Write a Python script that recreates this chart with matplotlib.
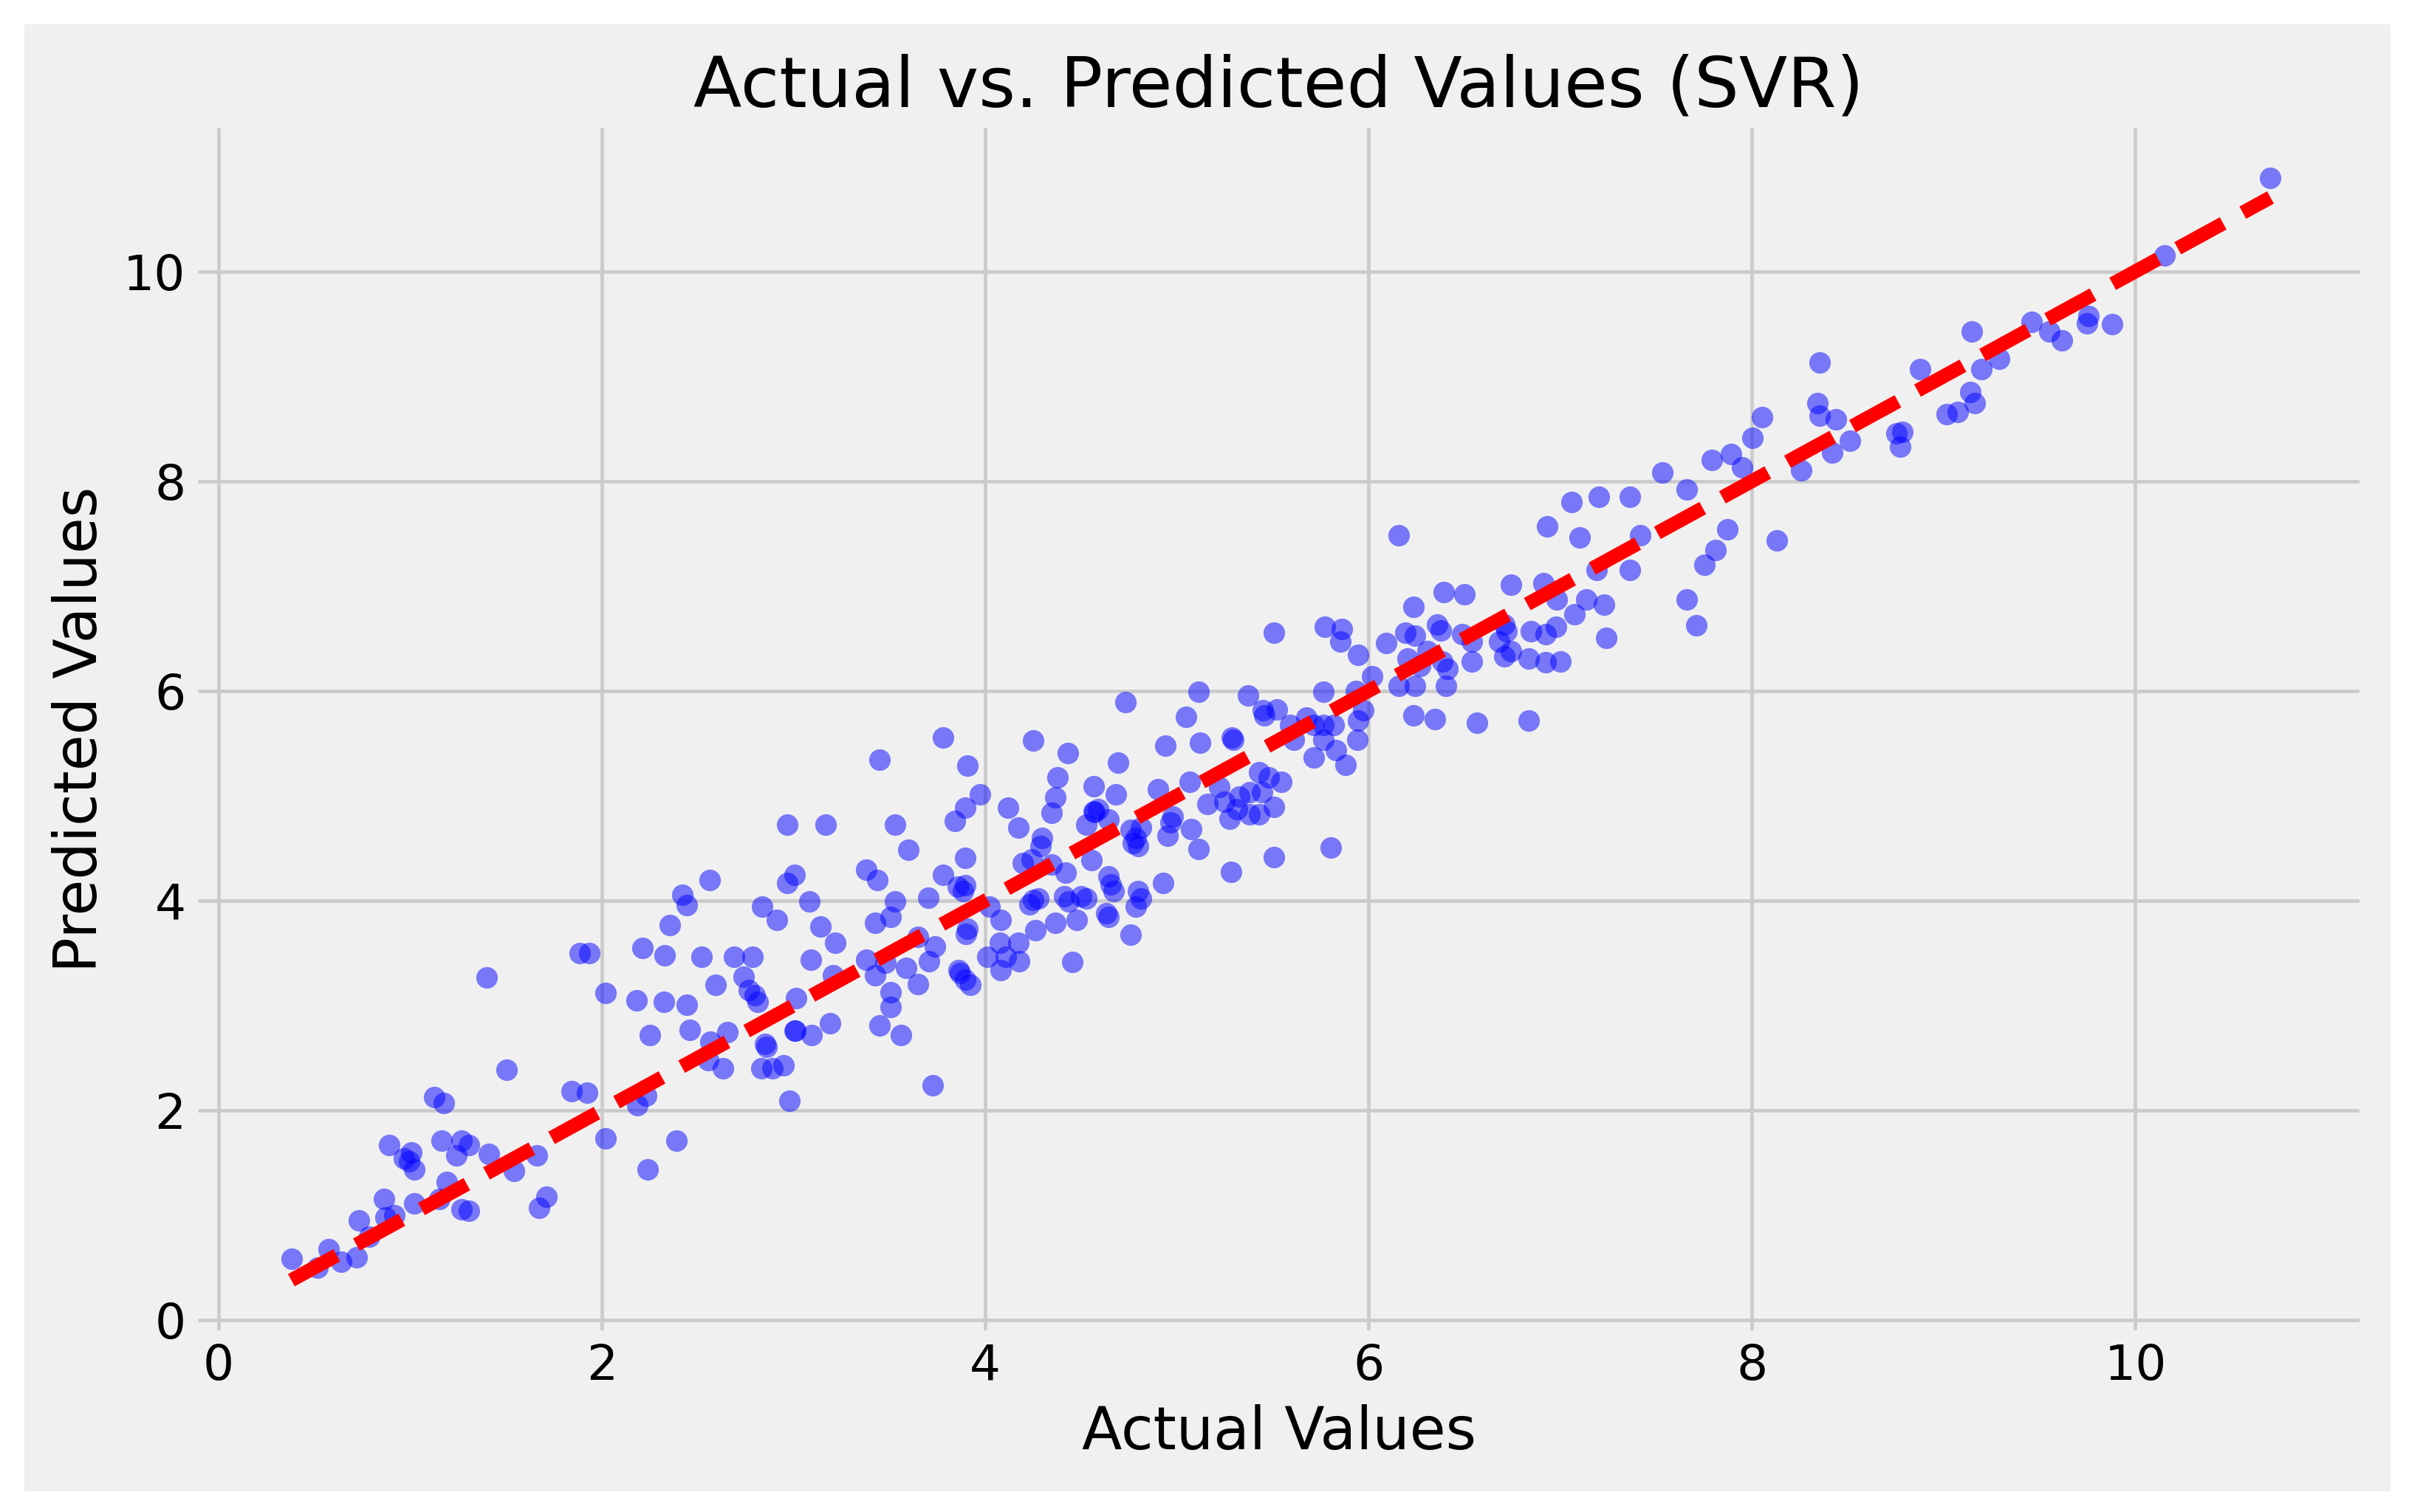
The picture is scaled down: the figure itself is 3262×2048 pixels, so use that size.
import matplotlib
matplotlib.use("Agg")
import matplotlib.pyplot as plt
from matplotlib.patches import Rectangle

plt.style.use("fivethirtyeight")
plt.rcParams['font.family'] = ['DejaVu Sans']

actual_values = [
    0.379, 0.516, 0.575, 0.640, 0.719, 0.732, 0.784, 0.862, 0.869, 0.915, 0.889, 0.967, 1.006, 0.993, 1.019,
    1.019, 1.124, 1.176, 1.163, 1.189, 1.15, 1.268, 1.307, 1.268, 1.241, 1.307, 1.411, 1.398, 1.542, 1.503,
    1.66, 1.673, 1.712, 1.843, 1.921, 1.882, 1.934, 2.019, 2.019,
    2.966, 2.56, 2.418, 2.443, 2.353, 2.211, 2.327, 2.521, 2.688, 2.785, 2.837, 2.914, 2.966, 3.005, 2.18,
    2.321, 2.444, 2.593, 2.74, 2.766, 2.798, 2.811, 2.25, 2.456, 2.565, 2.656, 2.553, 2.63, 2.85, 2.86,
    2.83, 2.888, 2.947, 3.005, 3.01, 2.979, 2.231, 2.185, 2.39, 2.237,
    3.778, 3.449, 3.907, 3.971, 3.894, 3.842, 3.166, 3.527, 3.6, 3.894, 3.378, 3.436, 3.778, 3.856, 3.882,
    3.894, 3.082, 3.701, 3.527, 3.507, 3.423, 3.139, 3.217, 3.907, 3.9, 3.647, 3.738, 3.706, 3.585, 3.647,
    3.378, 3.478, 3.423, 3.089, 3.204, 3.862, 3.868, 3.92, 3.894, 3.011, 3.507, 3.507, 3.449, 3.559, 3.191,
    3.094, 3.727,
    4.732, 4.249, 4.43, 4.693, 4.939, 4.378, 4.565, 4.68, 4.365, 4.346, 4.12, 4.172, 4.9, 4.565, 4.57,
    4.59, 4.526, 4.642, 4.294, 4.288, 4.758, 4.81, 4.784, 4.797, 4.771, 4.965, 4.952, 4.977, 4.197, 4.243,
    4.346, 4.417, 4.552, 4.642, 4.655, 4.668, 4.926, 4.797, 4.81, 4.784, 4.249, 4.23, 4.275, 4.41, 4.436,
    4.5, 4.526, 4.629, 4.642, 4.023, 4.081, 4.262, 4.365, 4.475, 4.758, 4.075, 4.172, 4.01, 4.107, 4.178,
    4.081, 4.455,
    5.506, 5.771, 5.861, 5.854, 5.945, 5.113, 5.371, 5.765, 5.048, 5.448, 5.455, 5.519, 5.59, 5.674, 5.713,
    5.765, 5.816, 5.932, 5.971, 5.945, 5.939, 5.119, 5.287, 5.293, 5.61, 5.765, 5.829, 5.713, 5.88, 5.068,
    5.222, 5.429, 5.48, 5.545, 5.158, 5.248, 5.326, 5.377, 5.442, 5.506, 5.274, 5.377, 5.429, 5.313, 5.074,
    5.113, 5.281, 5.506, 5.803,
    6.157, 6.931, 6.235, 6.39, 6.5, 6.744, 6.912, 6.983, 6.093, 6.19, 6.242, 6.358, 6.377, 6.487, 6.538,
    6.706, 6.719, 6.68, 6.706, 6.744, 6.848, 6.925, 6.977, 6.835, 6.925, 7.0, 6.203, 6.267, 6.306, 6.384,
    6.409, 6.538, 6.016, 6.157, 6.242, 6.403, 6.235, 6.345, 6.564, 6.835,
    8.053, 8.002, 7.789, 7.892, 7.95, 7.531, 7.66, 7.06, 7.202, 7.363, 7.099, 7.415, 7.873, 8.13, 7.808,
    7.75, 7.189, 7.363, 7.137, 7.227, 7.073, 7.66, 7.711, 7.241,
    10.705, 10.151, 9.757, 9.748, 9.879, 9.458, 9.551, 9.617, 9.148, 9.289, 9.195, 9.139, 9.162, 9.017, 9.074,
    8.876, 8.351, 8.342, 8.351, 8.436, 8.51, 8.417, 8.258, 8.754, 8.783, 8.773,
]

predicted_values = [
    0.586, 0.498, 0.674, 0.556, 0.600, 0.952, 0.791, 1.157, 0.981, 0.996, 1.67, 1.538, 1.60, 1.51, 1.435,
    1.113, 2.123, 2.07, 1.713, 1.318, 1.157, 1.054, 1.04, 1.713, 1.567, 1.67, 1.581, 3.265, 1.42, 2.387,
    1.567, 1.069, 1.172, 2.182, 2.167, 3.499, 3.499, 3.119, 1.728,
    4.722, 4.193, 4.054, 3.953, 3.764, 3.55, 3.475, 3.462, 3.462, 3.462, 3.94, 3.815, 4.168, 4.243, 3.046,
    3.033, 3.008, 3.197, 3.273, 3.147, 3.096, 3.033, 2.718, 2.769, 2.656, 2.744, 2.479, 2.403, 2.631, 2.605,
    2.403, 2.403, 2.428, 2.756, 2.76, 2.088, 2.139, 2.05, 1.71, 1.432,
    5.554, 5.34, 5.289, 5.012, 4.886, 4.76, 4.722, 4.722, 4.483, 4.407, 4.294, 4.193, 4.243, 4.13, 4.092,
    4.143, 3.99, 4.028, 3.99, 3.84, 3.789, 3.752, 3.6, 3.73, 3.68, 3.655, 3.56, 3.42, 3.355, 3.2,
    3.437, 3.41, 3.286, 3.437, 3.286, 3.336, 3.31, 3.197, 3.248, 3.072, 3.122, 2.984, 2.807, 2.719, 2.832,
    2.719, 2.24,
    5.894, 5.529, 5.403, 5.315, 5.479, 5.176, 5.088, 5.012, 4.987, 4.836, 4.886, 4.697, 5.062, 4.85, 4.84,
    4.873, 4.722, 4.772, 4.596, 4.52, 4.672, 4.697, 4.596, 4.52, 4.545, 4.747, 4.621, 4.798, 4.357, 4.395,
    4.344, 4.268, 4.382, 4.231, 4.155, 4.092, 4.168, 4.092, 4.016, 3.94, 4.004, 3.966, 4.016, 4.042, 3.991,
    4.042, 4.016, 3.878, 3.84, 3.94, 3.815, 3.714, 3.789, 3.815, 3.676, 3.6, 3.6, 3.462, 3.462, 3.424,
    3.336, 3.412,
    6.554, 6.612, 6.588, 6.47, 6.341, 5.989, 5.954, 5.989, 5.754, 5.813, 5.766, 5.825, 5.672, 5.742, 5.672,
    5.672, 5.672, 6.0, 5.813, 5.719, 5.531, 5.507, 5.554, 5.531, 5.531, 5.531, 5.437, 5.366, 5.295, 5.129,
    5.082, 5.223, 5.176, 5.129, 4.919, 4.942, 4.989, 5.035, 5.035, 4.895, 4.777, 4.824, 4.824, 4.871, 4.683,
    4.494, 4.271, 4.413, 4.508,
    7.483, 7.565, 6.801, 6.94, 6.917, 7.011, 7.023, 6.87, 6.459, 6.553, 6.529, 6.635, 6.576, 6.541, 6.47,
    6.635, 6.565, 6.47, 6.329, 6.376, 6.565, 6.541, 6.612, 6.306, 6.271, 6.282, 6.306, 6.235, 6.376, 6.282,
    6.212, 6.282, 6.141, 6.047, 6.047, 6.047, 5.765, 5.729, 5.694, 5.717,
    8.612, 8.412, 8.2, 8.259, 8.13, 8.083, 7.918, 7.8, 7.847, 7.847, 7.46, 7.484, 7.543, 7.437, 7.342,
    7.2, 7.153, 7.153, 6.871, 6.824, 6.729, 6.871, 6.624, 6.507,
    10.894, 10.153, 9.577, 9.506, 9.494, 9.518, 9.424, 9.341, 9.424, 9.164, 9.07, 8.847, 8.741, 8.635, 8.659,
    9.07, 9.129, 8.741, 8.623, 8.588, 8.388, 8.271, 8.106, 8.458, 8.47, 8.329,
]

title_text = "Actual vs. Predicted Values (SVR)"
x_label = "Actual Values"
y_label = "Predicted Values"
x_ticks = [0, 2, 4, 6, 8, 10]
y_ticks = [0, 2, 4, 6, 8, 10]

DPI = 341
fig = plt.figure(figsize=(3262 / DPI, 2048 / DPI), dpi=DPI, facecolor="white")
fig.patches.append(Rectangle((0.0101, 0.0137), 0.9822, 0.9702, transform=fig.transFigure,
                             facecolor="#f0f0f0", edgecolor="none", zorder=-10))
ax = fig.add_axes([0.0822, 0.1201, 0.8973, 0.7954])
ax.set_facecolor("#f0f0f0")

ax.scatter(actual_values, predicted_values, color="blue", alpha=0.5, s=38, linewidths=0)
lo, hi = min(actual_values), max(actual_values)
ax.plot([lo, hi], [lo, hi], color="red", linestyle="--", linewidth=4)

ax.set_xlim(-0.108, 11.17)
ax.set_ylim(-0.1, 11.37)
ax.set_xticks(x_ticks)
ax.set_yticks(y_ticks)
ax.grid(True, color="#cbcbcb", linewidth=1.0)
for s in ax.spines.values():
    s.set_visible(False)
ax.tick_params(axis="both", labelsize=14, length=0, colors="black")

ax.set_title(title_text, fontsize=14 * 1.44)
ax.set_xlabel(x_label, fontsize=14 * 1.2)
ax.set_ylabel(y_label, fontsize=14 * 1.2)

fig.savefig("out.png", dpi=DPI, facecolor="white")
